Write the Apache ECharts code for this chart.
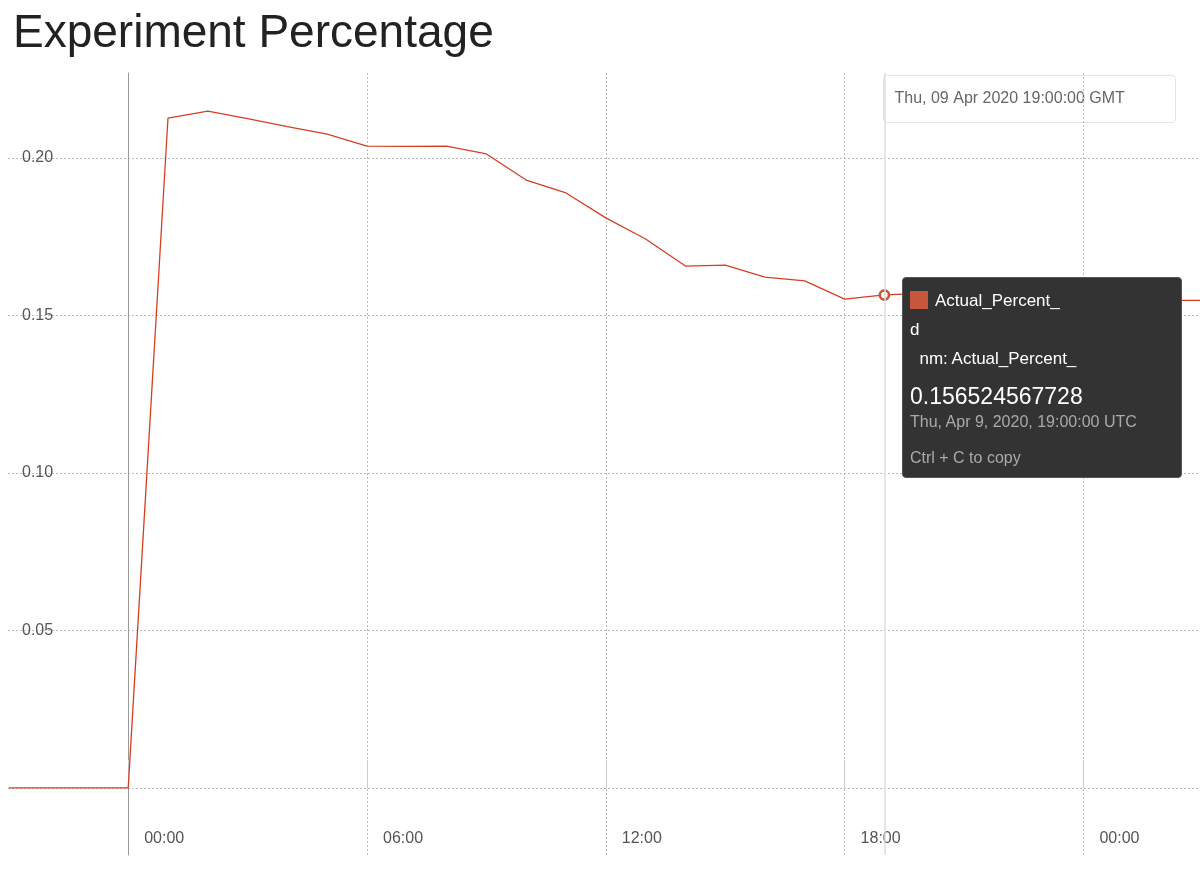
<!DOCTYPE html>
<html>
<head>
<meta charset="utf-8">
<script src="https://cdn.jsdelivr.net/npm/echarts@6/dist/echarts.min.js"></script>
<style>
  html, body { margin: 0; padding: 0; background: #fff; }
  #main { width: 1200px; height: 873px; }
</style>
</head>
<body>
<div id="main"></div>
<script>
// hours relative to Apr 9 2020 00:00 UTC
var hours = [-3, -2, -1, 0, 1, 2, 3, 4, 5, 6, 7, 8, 9, 10, 11, 12, 13, 14, 15, 16, 17, 18, 19, 20, 21, 22, 23, 24, 25, 26, 27];
var values = [0, 0, 0, 0, 0.2127, 0.2149, 0.2125, 0.2100, 0.2076, 0.2038, 0.2037, 0.2038, 0.2013, 0.1930, 0.1889,
  0.1810, 0.1743, 0.1657, 0.1660, 0.1622, 0.1610, 0.1552, 0.156524567728, 0.1570, 0.1568, 0.1566, 0.1568, 0.1543, 0.1543, 0.1548, 0.1548];
var xTicks = [0, 6, 12, 18, 24];
var yTicks = [0, 0.05, 0.10, 0.15, 0.20];
var hoverIndex = 22;

var chart = echarts.init(document.getElementById('main'));
var lineColor = '#c23a1e';

chart.setOption({
  animation: false,
  title: {
    text: 'Experiment Percentage', left: 8, top: 6,
    textStyle: { fontFamily: 'Liberation Sans, Arial, sans-serif', fontSize: 46, fontWeight: 'normal', color: '#222' }
  },
  grid: { left: 8, right: 0, top: 73, bottom: 18 },
  xAxis: {
    type: 'value', min: -3.02, max: 26.93,
    axisLine: { show: false },
    axisTick: { show: true, inside: true, length: 28, lineStyle: { color: '#ccc' }, customValues: xTicks },
    axisLabel: {
      inside: true, margin: 8, align: 'left', padding: [0, 0, 0, 16], color: '#555', fontSize: 16,
      fontFamily: 'Liberation Sans, Arial, sans-serif',
      customValues: xTicks,
      formatter: function (v) { var h = ((v % 24) + 24) % 24; return (h < 10 ? '0' : '') + h + ':00'; }
    },
    splitLine: { show: true, lineStyle: { color: '#bbb', type: [2, 2] } }
  },
  yAxis: {
    type: 'value', min: -0.0213, max: 0.2270,
    axisLine: { show: true, lineStyle: { color: '#999' } },
    axisTick: { show: false, customValues: yTicks },
    axisLabel: {
      inside: true, margin: 14, color: '#555', fontSize: 16,
      fontFamily: 'Liberation Sans, Arial, sans-serif',
      customValues: yTicks,
      formatter: function (v) { return v === 0 ? '' : v.toFixed(2); }
    },
    splitLine: { show: true, lineStyle: { color: '#bbb', type: [2, 2] } }
  },
  tooltip: {
    trigger: 'axis',
    triggerOn: 'none',
    alwaysShowContent: true,
    axisPointer: { type: 'line', lineStyle: { color: '#ddd', width: 1.5, type: 'solid' } },
    position: function () { return [902, 277]; },
    backgroundColor: '#333',
    borderColor: '#555',
    borderWidth: 1,
    padding: [8, 7, 8, 7],
    extraCssText: 'border-radius:4px;width:264px;box-shadow:none;',
    formatter: function (params) {
      var p = params[0];
      return '<div style="font-family:Liberation Sans,Arial,sans-serif;color:#fff;font-size:17px;line-height:29px;">'
        + '<span style="display:inline-block;width:18px;height:18px;background:#c8563b;vertical-align:-3px;margin-right:7px;"></span>Actual_Percent_<br>'
        + 'd<br>&nbsp;&nbsp;nm: Actual_Percent_'
        + '<div style="font-size:23px;margin-top:8px;line-height:30px;">' + p.value[1] + '</div>'
        + '<div style="color:#aaa;font-size:16px;line-height:22px;">Thu, Apr 9, 2020, 19:00:00 UTC</div>'
        + '<div style="color:#aaa;font-size:16px;margin-top:14px;line-height:22px;">Ctrl + C to copy</div></div>';
    }
  },
  graphic: [{
    type: 'group', left: 883, top: 75,
    children: [
      { type: 'rect', shape: { x: 0, y: 0, width: 292, height: 47, r: 3 },
        style: { fill: '#fff', stroke: '#e4e4e4', lineWidth: 1 } },
      { type: 'text', left: 11, top: 15,
        style: { text: 'Thu, 09 Apr 2020 19:00:00 GMT', fill: '#666', fontSize: 16, fontFamily: 'Liberation Sans, Arial, sans-serif' } }
    ]
  }],
  series: [{
    name: 'Actual_Percent_',
    type: 'line',
    data: hours.map(function (h, i) { return [h, values[i]]; }),
    showSymbol: false,
    symbol: 'circle',
    symbolSize: 9,
    lineStyle: { color: lineColor, width: 1.3 },
    itemStyle: { color: '#fff', borderColor: '#c8563b', borderWidth: 2.5 },
    emphasis: { scale: false, itemStyle: { color: '#fff', borderColor: '#c8563b', borderWidth: 2.5 } },
    markPoint: {
      symbol: 'circle', symbolSize: 9,
      itemStyle: { color: '#fff', borderColor: '#c8563b', borderWidth: 2.5 },
      label: { show: false },
      data: [{ coord: [hours[hoverIndex], values[hoverIndex]] }]
    }
  }]
});

chart.dispatchAction({ type: 'showTip', seriesIndex: 0, dataIndex: hoverIndex });
</script>
</body>
</html>
